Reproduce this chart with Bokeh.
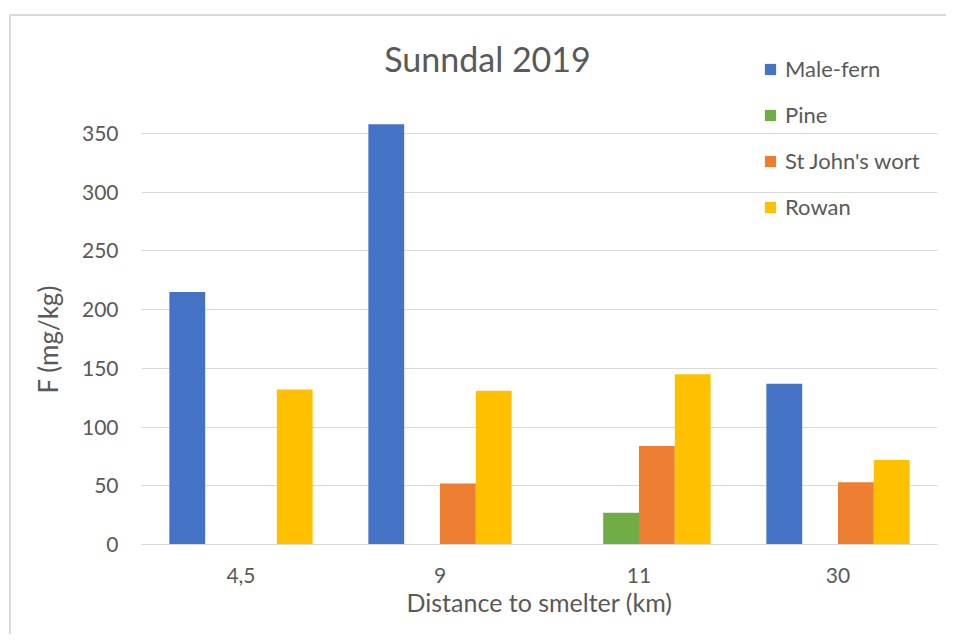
from bokeh.plotting import figure
from bokeh.models import Range1d, Label, Legend, LegendItem, Title
from bokeh.transform import dodge
from bokeh.embed import file_html
from bokeh.resources import INLINE

distances = ["4,5", "9", "11", "30"]
male_fern = [215, 358, 0, 137]
pine = [0, 0, 27, 0]
st_johns_wort = [0, 52, 84, 53]
rowan = [132, 131, 145, 72]
y_ticks = [0, 50, 100, 150, 200, 250, 300, 350]

series = [
    ("Male-fern", male_fern, "#4472C4", -0.27),
    ("Pine", pine, "#70AD47", -0.09),
    ("St John's wort", st_johns_wort, "#ED7D31", 0.09),
    ("Rowan", rowan, "#FFC000", 0.27),
]

FONT = "Lato"
TXT = "#595959"

p = figure(x_range=distances, y_range=Range1d(0, 429.3), width=937, height=620,
           output_backend="svg", toolbar_location=None,
           min_border_left=130, min_border_right=11, min_border_top=24, min_border_bottom=92)
p.margin = (14, 0, 0, 9)
p.styles = {"border-top": "2px solid #d9d9d9", "border-left": "2px solid #d9d9d9"}
p.outline_line_color = None
p.x_range.range_padding = 0

data = {"dist": distances}
for name, vals, color, off in series:
    data[name] = vals

items = []
for name, vals, color, off in series:
    r = p.vbar(x=dodge("dist", off, range=p.x_range), top=name, width=0.18, source=data,
               fill_color=color, line_color=None)
    items.append(LegendItem(label=name, renderers=[r]))

legend = Legend(items=items, location=(622, 324), glyph_width=14, glyph_height=14,
                label_height=22, spacing=19, padding=0, margin=0, label_standoff=8,
                label_text_font=FONT, label_text_font_size="22px", label_text_color=TXT,
                background_fill_alpha=0, border_line_color=None)
p.add_layout(legend, "center")

p.yaxis.ticker = y_ticks
p.yaxis.axis_line_color = None
p.yaxis.major_tick_line_color = None
p.yaxis.minor_tick_line_color = None
p.yaxis.major_label_standoff = 17

p.xaxis.axis_line_color = "#d9d9d9"
p.xaxis.major_tick_line_color = None
p.xaxis.minor_tick_line_color = None
p.xaxis.major_label_standoff = 17
p.xaxis.axis_label = "Distance to smelter (km)"
p.xaxis.axis_label_standoff = 1

for ax in (p.xaxis, p.yaxis):
    ax.major_label_text_font = FONT
    ax.major_label_text_font_size = "21px"
    ax.major_label_text_color = TXT
    ax.axis_label_text_font = FONT
    ax.axis_label_text_font_size = "25px"
    ax.axis_label_text_color = TXT
    ax.axis_label_text_font_style = "normal"

ytitle = Title(text="F (mg/kg)", align="left", offset=151, standoff=30,
               text_font=FONT, text_font_size="26px", text_color=TXT,
               text_font_style="normal")
p.add_layout(ytitle, "left")

p.xgrid.grid_line_color = None
p.ygrid.grid_line_color = "#d9d9d9"

title = Label(x=346, y=486, x_units="screen", y_units="screen", text="Sunndal 2019",
              text_align="center", text_baseline="alphabetic", text_font=FONT,
              text_font_size="34px", text_color=TXT)
p.add_layout(title)

open("out.html", "w").write(file_html(p, INLINE))
